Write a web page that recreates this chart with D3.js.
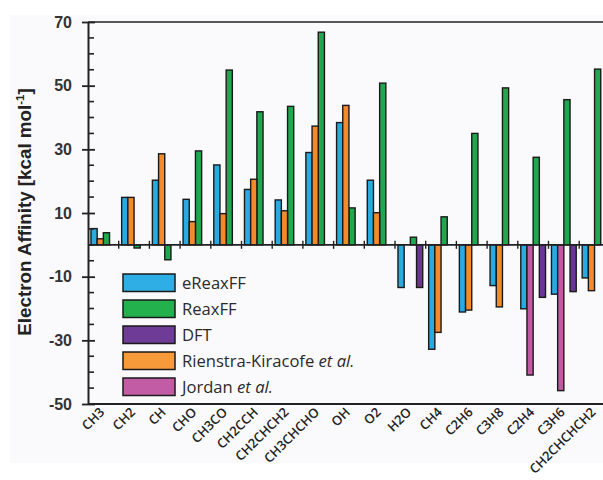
<!DOCTYPE html>
<html>
<head>
<meta charset="utf-8">
<script src="https://cdn.jsdelivr.net/npm/d3@7"></script>
<style>
  body { margin: 0; background: #ffffff; }
  svg { display: block; font-family: "Open Sans", "Noto Sans", sans-serif; }
</style>
</head>
<body>
<div id="chart"></div>
<script>
// Categories (molecules)
var categories = ["CH3", "CH2", "CH", "CHO", "CH3CO", "CH2CCH", "CH2CHCH2", "CH3CHCHO",
  "OH", "O2", "H2O", "CH4", "C2H6", "C3H8", "C2H4", "C3H6", "CH2CHCHCH2"];

// Series values (kcal/mol), null = no bar
var eReaxFF = [5.1, 14.9, 20.3, 14.3, 25.1, 17.4, 14.1, 29.0, 38.4, 20.3,
  -13.4, -32.8, -21.1, -12.8, -20.1, -15.5, -10.4];
var reaxFF = [3.8, -1.0, -4.7, 29.5, 54.9, 41.8, 43.5, 66.8, 11.6, 50.8,
  2.4, 8.8, 35.0, 49.3, 27.5, 45.6, 55.2];
var dft = [null, null, null, null, null, null, null, null, null, null,
  -13.4, null, null, null, -16.5, -14.7, null];
var rienstra = [1.9, 14.9, 28.6, 7.3, 9.8, 20.6, 10.7, 37.3, 43.8, 10.1,
  null, -27.5, -20.5, -19.5, null, null, -14.4];
var jordan = [null, null, null, null, null, null, null, null, null, null,
  null, null, null, null, -40.9, -45.8, null];

// Y axis ticks
var yTicks = [-50, -30, -10, 10, 30, 50, 70];

var W = 603, H = 480;
var plotLeft = 88, plotTop = 22, plotBottom = 404;
var catWidth = 30.7;

// series list: name, values, slot inside the cluster, colours
var series = [
  {name: "eReaxFF", values: eReaxFF, slot: 0, color: "#29abe2", legend: "#2eaee4"},
  {name: "ReaxFF", values: reaxFF, slot: 2, color: "#1fa84f", legend: "#22b14c"},
  {name: "DFT", values: dft, slot: 3, color: "#6a3596", legend: "#6e3b97"},
  {name: "Rienstra-Kiracofe", values: rienstra, slot: 1, color: "#f58a2a", legend: "#f79a3a", etal: true},
  {name: "Jordan", values: jordan, slot: 1, color: "#c05aa3", legend: "#c25ca4", etal: true}
];

var svg = d3.select("#chart").append("svg")
  .attr("width", W)
  .attr("height", H);

// faint panel behind everything
svg.append("rect")
  .attr("x", 10).attr("y", 15)
  .attr("width", W - 10).attr("height", 448)
  .attr("fill", "#fafafc");

// Scales
var x = d3.scaleBand()
  .domain(categories)
  .range([plotLeft, plotLeft + catWidth * categories.length])
  .paddingInner(0).paddingOuter(0);

var xSlot = d3.scaleBand()
  .domain([0, 1, 2, 3])
  .range([0, catWidth])
  .paddingInner(0).paddingOuter(0.48);

var y = d3.scaleLinear()
  .domain([-50, 70])
  .range([plotBottom, plotTop]);

// Bars
series.forEach(function(s) {
  var rows = categories.map(function(c, i) { return {cat: c, v: s.values[i]}; })
    .filter(function(d) { return d.v !== null; });
  svg.append("g").selectAll("rect")
    .data(rows)
    .enter().append("rect")
    .attr("x", function(d) { return x(d.cat) + xSlot(s.slot); })
    .attr("y", function(d) { return y(Math.max(0, d.v)); })
    .attr("width", xSlot.bandwidth())
    .attr("height", function(d) { return Math.abs(y(d.v) - y(0)); })
    .attr("fill", s.color)
    .attr("stroke", "#1a1a1a")
    .attr("stroke-width", 1.4);
});

// Frame: top and bottom lines
svg.append("line")
  .attr("x1", plotLeft).attr("x2", W)
  .attr("y1", plotTop).attr("y2", plotTop)
  .attr("stroke", "#222").attr("stroke-width", 1.6);
svg.append("line")
  .attr("x1", plotLeft).attr("x2", W)
  .attr("y1", plotBottom).attr("y2", plotBottom)
  .attr("stroke", "#222").attr("stroke-width", 1.8);

// Zero line with category ticks
var zero = svg.append("g").attr("transform", "translate(0," + y(0) + ")");
zero.append("line")
  .attr("x1", plotLeft).attr("x2", W)
  .attr("stroke", "#222").attr("stroke-width", 1.6);
zero.selectAll(".ctick")
  .data(d3.range(1, categories.length))
  .enter().append("line")
  .attr("x1", function(i) { return plotLeft + catWidth * i; })
  .attr("x2", function(i) { return plotLeft + catWidth * i; })
  .attr("y1", -4).attr("y2", 4)
  .attr("stroke", "#222").attr("stroke-width", 1.4);

// Y axis with minor ticks every 5
var yAxis = d3.axisLeft(y)
  .tickValues(yTicks)
  .tickFormat(function(d) { return String(d); })
  .tickSizeInner(6)
  .tickSizeOuter(0)
  .tickPadding(10);

var gy = svg.append("g")
  .attr("transform", "translate(" + plotLeft + ",0)")
  .call(yAxis);
gy.select(".domain").attr("stroke", "#222").attr("stroke-width", 2);
gy.selectAll(".tick line")
  .attr("x2", 7)
  .attr("x1", -6)
  .attr("stroke", "#222").attr("stroke-width", 1.8);
gy.selectAll(".tick text")
  .attr("fill", "#333")
  .style("font-size", "16px")
  .style("font-weight", "600");

svg.append("g").selectAll("line")
  .data(d3.range(-45, 70, 5).filter(function(v) { return yTicks.indexOf(v) < 0; }))
  .enter().append("line")
  .attr("x1", plotLeft).attr("x2", plotLeft + 6)
  .attr("y1", function(v) { return y(v); })
  .attr("y2", function(v) { return y(v); })
  .attr("stroke", "#222").attr("stroke-width", 1.6);

// X labels rotated
svg.append("g").selectAll("text")
  .data(categories)
  .enter().append("text")
  .attr("transform", function(d) {
    return "translate(" + (x(d) + catWidth / 2 + 2) + "," + (plotBottom + 9) + ") rotate(-45)";
  })
  .attr("text-anchor", "end")
  .attr("fill", "#222")
  .style("font-size", "13px")
  .style("font-weight", "600")
  .text(function(d) { return d; });

// Y title
var yTitle = svg.append("text")
  .attr("transform", "translate(31," + 212 + ") rotate(-90)")
  .attr("text-anchor", "middle")
  .attr("fill", "#222")
  .style("font-family", "'Liberation Sans', Arial, sans-serif")
  .style("font-size", "18.8px")
  .style("font-weight", "700");
yTitle.append("tspan").text("Electron Affinity [kcal mol");
yTitle.append("tspan").attr("dy", -7).style("font-size", "11.5px").text("-1");
yTitle.append("tspan").attr("dy", 7).text("]");

// Legend
var legend = svg.append("g").attr("transform", "translate(123,274)");
var item = legend.selectAll("g")
  .data(series)
  .enter().append("g")
  .attr("transform", function(d, i) { return "translate(0," + (i * 26) + ")"; });
item.append("rect")
  .attr("width", 52).attr("height", 17.5)
  .attr("fill", function(d) { return d.legend; })
  .attr("stroke", "#1a1a1a").attr("stroke-width", 1.5);
var lt = item.append("text")
  .attr("x", 59).attr("y", 15)
  .attr("fill", "#2a2a2a")
  .style("font-size", "16.6px");
lt.append("tspan").text(function(d) { return d.name; });
lt.filter(function(d) { return d.etal; })
  .append("tspan").style("font-style", "italic").text(" et al.");
</script>
</body>
</html>
